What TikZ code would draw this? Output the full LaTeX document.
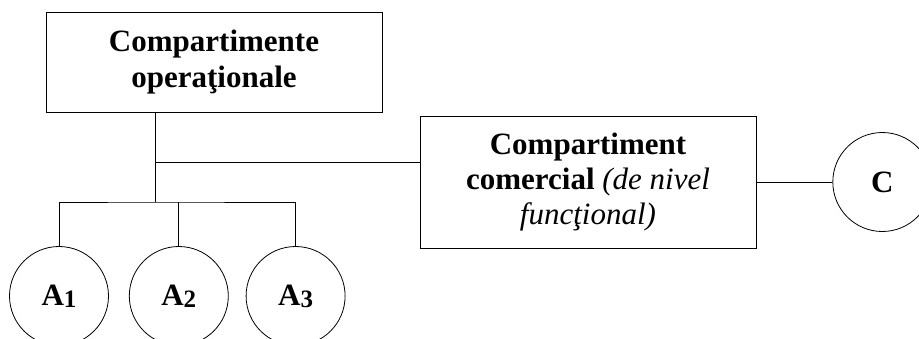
\documentclass[tikz,border=0pt]{standalone}
\usepackage{fontspec}
\setmainfont{Liberation Serif}
\usepackage{tikz}
\usetikzlibrary{
  positioning,
  calc
}
\tikzset{
  orgnode/.style={
    draw, thin, align=center, inner sep=2pt,
    font=\fontsize{15.5}{18}\selectfont
  },
  deptbox/.style={orgnode, minimum width=168pt, minimum height=50pt, font=\fontsize{15.5}{18}\selectfont\bfseries},
  combox/.style={orgnode, minimum width=168pt, minimum height=66pt, font=\fontsize{15.5}{17.5}\selectfont},
  unit/.style={orgnode, circle, minimum size=49.5pt, inner sep=0pt, font=\fontsize{15.5}{18}\selectfont\bfseries},
  link/.style={thin}
}
\newcommand{\unitidx}[1]{{\fontsize{12.5}{12.5}\selectfont\raisebox{-1pt}{#1}}}

\begin{document}
\begin{tikzpicture}[x=1pt, y=1pt]
  \useasboundingbox (0,0) rectangle (459.5,-169);
  \node[deptbox] (ops) at (107,-31) {Compartimente\\opera\char"0163ionale};
  \node[combox] (com) at (294,-91)
    {\textbf{Compartiment}\\\textbf{comercial} \textit{(de nivel}\\\textit{func\char"0163ional)}};
  \node[unit, right=38pt of com] (c) {C};
  \node[unit] (a1) at (29.5,-148) {A\unitidx{1}};
  \node[unit, right=10pt of a1] (a2) {A\unitidx{2}};
  \node[unit, right=8.5pt of a2] (a3) {A\unitidx{3}};
  % branch points under the operational box
  \coordinate (tap) at (77.5,-81);
  \coordinate (hub) at (77.5,-101);
  \draw[link] (ops.south -| hub) -- (hub);
  \draw[link] (tap) -- (tap -| com.west);
  \draw[link] (a1.north) |- (hub) -| (a3.north);
  \draw[link] (a2.north) -- (a2.north |- hub);
  \draw[link] (com.east) -- (c.west);
\end{tikzpicture}
\end{document}
